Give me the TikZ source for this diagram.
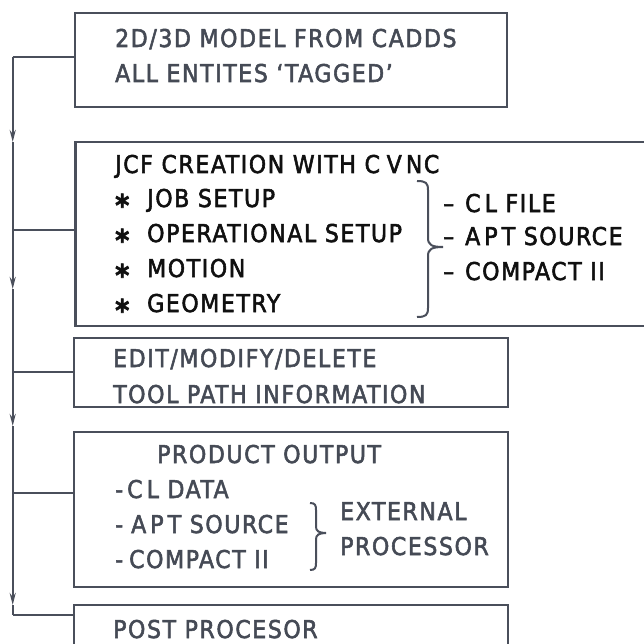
\documentclass[tikz,border=0pt]{standalone}
\usepackage{fontspec}
\setmainfont{DejaVu Sans Condensed}[FakeBold=2.2, LetterSpace=6.5]
\usetikzlibrary{arrows.meta}
\definecolor{ln}{HTML}{4A4F5B}
\definecolor{gt}{HTML}{454A55}
\definecolor{bk}{HTML}{101010}
\newcommand{\bulstar}{\makebox[32pt][l]{\raisebox{-9pt}{\fontsize{30}{30}\selectfont\bfseries *}}}
\begin{document}
\begin{tikzpicture}[x=1pt,y=-1pt,
  box/.style={draw=ln, line width=2.2pt, inner sep=0pt},
  lbl/.style={anchor=base west, inner sep=0pt, font=\fontsize{24.5}{28}\selectfont, text=gt},
  blk/.style={lbl, text=bk},
  link/.style={draw=ln, line width=2.2pt},
  tipd/.style={-{Stealth[length=12pt,width=6pt]}},
  brc/.style={draw=ln, line width=2pt}]
\useasboundingbox (0,0) rectangle (643,644);
\fill[white] (0,0) rectangle (643,644);
% boxes
\node[box, minimum width=432pt, minimum height=94pt] (b1) at (291,60) {};
\node[box, minimum width=625pt, minimum height=184pt] (b2) at (388,234) {};
\node[box, minimum width=434pt, minimum height=69pt] (b3) at (291,372.5) {};
\node[box, minimum width=434pt, minimum height=155pt] (b4) at (291,509.5) {};
\node[box, minimum width=434pt, minimum height=95pt] (b5) at (291,652.5) {};
% trunk
\coordinate (s1) at (12.7,57);
\coordinate (s2) at (12.7,230);
\coordinate (s3) at (12.7,372);
\coordinate (s4) at (12.7,493);
\coordinate (s5) at (12.7,615);
\coordinate (a1) at (12.7,142);
\coordinate (a2) at (12.7,289);
\coordinate (a3) at (12.7,426);
\coordinate (a4) at (12.7,605);
\draw[link] (s1) -- (s1 -| b1.west);
\draw[link] (s2) -- (s2 -| b2.west);
\draw[link] (s3) -- (s3 -| b3.west);
\draw[link] (s4) -- (s4 -| b4.west);
\draw[link] (s5) -- (s5 -| b5.west);
\draw[link,tipd] (s1) -- (a1);
\draw[link] (a1) -- (s2);
\draw[link,tipd] (s2) -- (a2);
\draw[link] (a2) -- (s3);
\draw[link,tipd] (s3) -- (a3);
\draw[link] (a3) -- (s4);
\draw[link,tipd] (s4) -- (a4);
\draw[link] (a4) -- (s5);
% box 1
\node[lbl] (t1a) at (115,47) {2D/3D MODEL FROM CADDS};
\node[lbl] (t1b) at (115,82) {ALL ENTITES ‘TAGGED’};
% box 2
\node[blk] (t2a) at (115,173) {JCF CREATION WITH C\;V\,NC};
\node[blk] (t2b) at (115,207) {\bulstar JOB SETUP};
\node[blk] (t2c) at (115,242) {\bulstar OPERATIONAL SETUP};
\node[blk] (t2d) at (115,277) {\bulstar MOTION};
\node[blk] (t2e) at (115,312) {\bulstar GEOMETRY};
\draw[brc] (417,181) .. controls (426,181) and (428,183) .. (428,190) -- (428,238) .. controls (428,245) and (432,247) .. (443,247) .. controls (432,247) and (428,249) .. (428,256) -- (428,308) .. controls (428,315) and (426,317) .. (417,317);
\node[blk] (t2f) at (443,212) {\makebox[22pt][l]{–}C\,L FILE};
\node[blk] (t2g) at (443,245) {\makebox[22pt][l]{–}A\,P\,T SOURCE};
\node[blk] (t2h) at (443,280) {\makebox[22pt][l]{–}COMPACT II};
% box 3
\node[lbl] (t3a) at (113,367) {EDIT/MODIFY/DELETE};
\node[lbl] (t3b) at (113,403) {TOOL PATH INFORMATION};
% box 4
\node[lbl] (t4a) at (157,463) {PRODUCT OUTPUT};
\node[lbl] (t4b) at (115,498) {\makebox[12pt][l]{-}C\,L DATA};
\node[lbl] (t4c) at (115,533) {\makebox[16pt][l]{-}A\,P\,T SOURCE};
\node[lbl] (t4d) at (115,568) {\makebox[14pt][l]{-}COMPACT II};
\draw[brc] (310,503) .. controls (315,503) and (316,505) .. (316,510) -- (316,527) .. controls (316,531) and (319,533) .. (326,533) .. controls (319,533) and (316,535) .. (316,539) -- (316,563) .. controls (316,568) and (315,570) .. (310,570);
\node[lbl] (t4e) at (340,520) {EXTERNAL};
\node[lbl] (t4f) at (340,555) {PROCESSOR};
% box 5
\node[lbl] (t5a) at (113,638) {POST PROCESOR};
\end{tikzpicture}
\end{document}
